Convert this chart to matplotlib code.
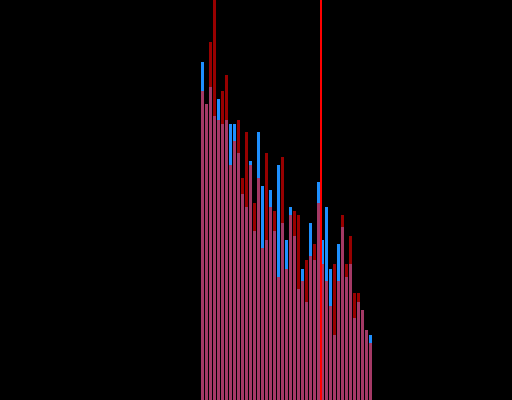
import numpy as np
import matplotlib
matplotlib.use("Agg")
import matplotlib.pyplot as plt

# bin index of every bar
bins = list(range(43))

# heights (bottom of figure = 0, top = 400)
blue_counts = [338, 296, 313, 284, 301, 276, 280, 276, 276, 247,
               206, 193, 239, 169, 268, 214, 160, 210, 169, 235,
               177, 160, 193, 164, 111, 131, 98, 177, 140, 218,
               160, 193, 131, 65, 156, 173, 123, 136, 82, 98,
               90, 70, 65]
red_counts = [309, 296, 358, 420, 280, 309, 325, 235, 259, 280,
              222, 268, 235, 197, 222, 152, 247, 193, 189, 123,
              243, 131, 185, 189, 185, 119, 140, 144, 156, 197,
              136, 119, 94, 136, 119, 185, 136, 164, 107, 107,
              90, 70, 57]

# position of the marker line (a bin edge)
marker_x = 29.5

fig = plt.figure(figsize=(5.12, 4.0), dpi=100)
fig.patch.set_facecolor("black")
ax = fig.add_axes([0, 0, 1, 1])
ax.set_facecolor("black")

ax.bar(bins, blue_counts, width=0.75, color="dodgerblue", linewidth=0)
ax.bar(bins, red_counts, width=0.75, color="red", alpha=0.6, linewidth=0)
# bright red marker drawn on top of the bars
ax.axvline(marker_x, color="#ff0000", linewidth=1.44, zorder=5, snap=True)

# axes fill the whole figure, no frame or ticks
ax.set_xlim(-50.625, 77.375)
ax.set_ylim(0, 400)
ax.axis("off")

fig.savefig("out.png", dpi=100, facecolor="black")
